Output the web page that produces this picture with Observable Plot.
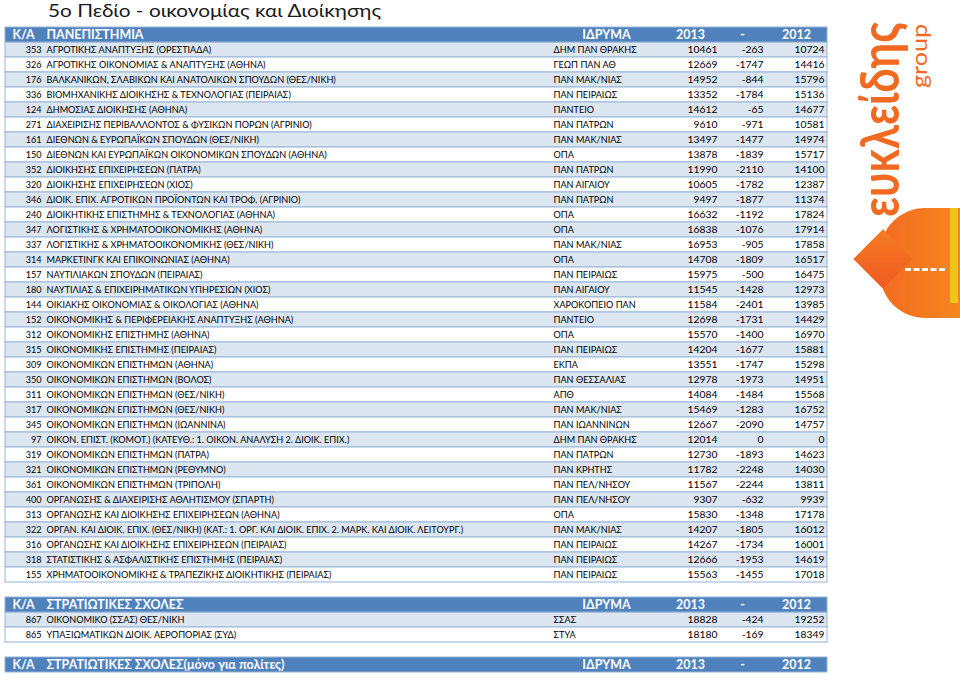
<!DOCTYPE html>
<html><head><meta charset="utf-8">
<script src="https://cdn.jsdelivr.net/npm/d3@7"></script>
<script src="https://cdn.jsdelivr.net/npm/@observablehq/plot@0.6"></script>
<style>
body{margin:0;background:#fff;width:960px;height:682px;position:relative;overflow:hidden;font-family:Lato,"Noto Sans",sans-serif}
#title{position:absolute;left:48px;top:0;white-space:nowrap;color:#1a1a1a;line-height:normal;transform-origin:0 0}
#chart{position:absolute;left:0;top:20px}
.rot{position:absolute;white-space:nowrap;transform-origin:0 0;line-height:1;color:#F26A21}
.shape{position:absolute}
</style></head><body>
<div id="title">5ο Πεδίο - οικονομίας και Διοίκησης</div>
<div id="chart"></div>
<div id="logo"></div>
<script>
// ---------- data ----------
const sectionTitles = ["ΠΑΝΕΠΙΣΤΗΜΙΑ", "ΣΤΡΑΤΙΩΤΙΚΕΣ ΣΧΟΛΕΣ", "ΣΤΡΑΤΙΩΤΙΚΕΣ ΣΧΟΛΕΣ(μόνο για πολίτες)"];
const columnLabels = ["Κ/Α", "ΙΔΡΥΜΑ", "2013", "-", "2012"];

const uniIds = [353,326,176,336,124,271,161,150,352,320,346,240,347,337,314,157,180,144,152,312,315,309,350,311,317,345,97,319,321,361,400,313,322,316,318,155];
const uniNames = [
"ΑΓΡΟΤΙΚΗΣ ΑΝΑΠΤΥΞΗΣ (ΟΡΕΣΤΙΑΔΑ)",
"ΑΓΡΟΤΙΚΗΣ ΟΙΚΟΝΟΜΙΑΣ & ΑΝΑΠΤΥΞΗΣ (ΑΘΗΝΑ)",
"ΒΑΛΚΑΝΙΚΩΝ, ΣΛΑΒΙΚΩΝ ΚΑΙ ΑΝΑΤΟΛΙΚΩΝ ΣΠΟΥΔΩΝ (ΘΕΣ/ΝΙΚΗ)",
"ΒΙΟΜΗΧΑΝΙΚΗΣ ΔΙΟΙΚΗΣΗΣ & ΤΕΧΝΟΛΟΓΙΑΣ (ΠΕΙΡΑΙΑΣ)",
"ΔΗΜΟΣΙΑΣ ΔΙΟΙΚΗΣΗΣ (ΑΘΗΝΑ)",
"ΔΙΑΧΕΙΡΙΣΗΣ ΠΕΡΙΒΑΛΛΟΝΤΟΣ & ΦΥΣΙΚΩΝ ΠΟΡΩΝ (ΑΓΡΙΝΙΟ)",
"ΔΙΕΘΝΩΝ & ΕΥΡΩΠΑΪΚΩΝ ΣΠΟΥΔΩΝ (ΘΕΣ/ΝΙΚΗ)",
"ΔΙΕΘΝΩΝ ΚΑΙ ΕΥΡΩΠΑΪΚΩΝ ΟΙΚΟΝΟΜΙΚΩΝ ΣΠΟΥΔΩΝ (ΑΘΗΝΑ)",
"ΔΙΟΙΚΗΣΗΣ ΕΠΙΧΕΙΡΗΣΕΩΝ (ΠΑΤΡΑ)",
"ΔΙΟΙΚΗΣΗΣ ΕΠΙΧΕΙΡΗΣΕΩΝ (ΧΙΟΣ)",
"ΔΙΟΙΚ. ΕΠΙΧ. ΑΓΡΟΤΙΚΩΝ ΠΡΟΪΟΝΤΩΝ ΚΑΙ ΤΡΟΦ. (ΑΓΡΙΝΙΟ)",
"ΔΙΟΙΚΗΤΙΚΗΣ ΕΠΙΣΤΗΜΗΣ & ΤΕΧΝΟΛΟΓΙΑΣ (ΑΘΗΝΑ)",
"ΛΟΓΙΣΤΙΚΗΣ & ΧΡΗΜΑΤΟΟΙΚΟΝΟΜΙΚΗΣ (ΑΘΗΝΑ)",
"ΛΟΓΙΣΤΙΚΗΣ & ΧΡΗΜΑΤΟΟΙΚΟΝΟΜΙΚΗΣ (ΘΕΣ/ΝΙΚΗ)",
"ΜΑΡΚΕΤΙΝΓΚ ΚΑΙ ΕΠΙΚΟΙΝΩΝΙΑΣ (ΑΘΗΝΑ)",
"ΝΑΥΤΙΛΙΑΚΩΝ ΣΠΟΥΔΩΝ (ΠΕΙΡΑΙΑΣ)",
"ΝΑΥΤΙΛΙΑΣ & ΕΠΙΧΕΙΡΗΜΑΤΙΚΩΝ ΥΠΗΡΕΣΙΩΝ (ΧΙΟΣ)",
"ΟΙΚΙΑΚΗΣ ΟΙΚΟΝΟΜΙΑΣ & ΟΙΚΟΛΟΓΙΑΣ (ΑΘΗΝΑ)",
"ΟΙΚΟΝΟΜΙΚΗΣ & ΠΕΡΙΦΕΡΕΙΑΚΗΣ ΑΝΑΠΤΥΞΗΣ (ΑΘΗΝΑ)",
"ΟΙΚΟΝΟΜΙΚΗΣ ΕΠΙΣΤΗΜΗΣ (ΑΘΗΝΑ)",
"ΟΙΚΟΝΟΜΙΚΗΣ ΕΠΙΣΤΗΜΗΣ (ΠΕΙΡΑΙΑΣ)",
"ΟΙΚΟΝΟΜΙΚΩΝ ΕΠΙΣΤΗΜΩΝ (ΑΘΗΝΑ)",
"ΟΙΚΟΝΟΜΙΚΩΝ ΕΠΙΣΤΗΜΩΝ (ΒΟΛΟΣ)",
"ΟΙΚΟΝΟΜΙΚΩΝ ΕΠΙΣΤΗΜΩΝ (ΘΕΣ/ΝΙΚΗ)",
"ΟΙΚΟΝΟΜΙΚΩΝ ΕΠΙΣΤΗΜΩΝ (ΘΕΣ/ΝΙΚΗ)",
"ΟΙΚΟΝΟΜΙΚΩΝ ΕΠΙΣΤΗΜΩΝ (ΙΩΑΝΝΙΝΑ)",
"ΟΙΚΟΝ. ΕΠΙΣΤ. (ΚΟΜΟΤ.) (ΚΑΤΕΥΘ.: 1. ΟΙΚΟΝ. ΑΝΑΛΥΣΗ 2. ΔΙΟΙΚ. ΕΠΙΧ.)",
"ΟΙΚΟΝΟΜΙΚΩΝ ΕΠΙΣΤΗΜΩΝ (ΠΑΤΡΑ)",
"ΟΙΚΟΝΟΜΙΚΩΝ ΕΠΙΣΤΗΜΩΝ (ΡΕΘΥΜΝΟ)",
"ΟΙΚΟΝΟΜΙΚΩΝ ΕΠΙΣΤΗΜΩΝ (ΤΡΙΠΟΛΗ)",
"ΟΡΓΑΝΩΣΗΣ & ΔΙΑΧΕΙΡΙΣΗΣ ΑΘΛΗΤΙΣΜΟΥ (ΣΠΑΡΤΗ)",
"ΟΡΓΑΝΩΣΗΣ ΚΑΙ ΔΙΟΙΚΗΣΗΣ ΕΠΙΧΕΙΡΗΣΕΩΝ (ΑΘΗΝΑ)",
"ΟΡΓΑΝ. ΚΑΙ ΔΙΟΙΚ. ΕΠΙΧ. (ΘΕΣ/ΝΙΚΗ) (ΚΑΤ.: 1. ΟΡΓ. ΚΑΙ ΔΙΟΙΚ. ΕΠΙΧ. 2. ΜΑΡΚ. ΚΑΙ ΔΙΟΙΚ. ΛΕΙΤΟΥΡΓ.)",
"ΟΡΓΑΝΩΣΗΣ ΚΑΙ ΔΙΟΙΚΗΣΗΣ ΕΠΙΧΕΙΡΗΣΕΩΝ (ΠΕΙΡΑΙΑΣ)",
"ΣΤΑΤΙΣΤΙΚΗΣ & ΑΣΦΑΛΙΣΤΙΚΗΣ ΕΠΙΣΤΗΜΗΣ (ΠΕΙΡΑΙΑΣ)",
"ΧΡΗΜΑΤΟΟΙΚΟΝΟΜΙΚΗΣ & ΤΡΑΠΕΖΙΚΗΣ ΔΙΟΙΚΗΤΙΚΗΣ (ΠΕΙΡΑΙΑΣ)"
];
const uniInsts = ["ΔΗΜ ΠΑΝ ΘΡΑΚΗΣ","ΓΕΩΠ ΠΑΝ ΑΘ","ΠΑΝ ΜΑΚ/ΝΙΑΣ","ΠΑΝ ΠΕΙΡΑΙΩΣ","ΠΑΝΤΕΙΟ","ΠΑΝ ΠΑΤΡΩΝ","ΠΑΝ ΜΑΚ/ΝΙΑΣ","ΟΠΑ","ΠΑΝ ΠΑΤΡΩΝ","ΠΑΝ ΑΙΓΑΙΟΥ","ΠΑΝ ΠΑΤΡΩΝ","ΟΠΑ","ΟΠΑ","ΠΑΝ ΜΑΚ/ΝΙΑΣ","ΟΠΑ","ΠΑΝ ΠΕΙΡΑΙΩΣ","ΠΑΝ ΑΙΓΑΙΟΥ","ΧΑΡΟΚΟΠΕΙΟ ΠΑΝ","ΠΑΝΤΕΙΟ","ΟΠΑ","ΠΑΝ ΠΕΙΡΑΙΩΣ","ΕΚΠΑ","ΠΑΝ ΘΕΣΣΑΛΙΑΣ","ΑΠΘ","ΠΑΝ ΜΑΚ/ΝΙΑΣ","ΠΑΝ ΙΩΑΝΝΙΝΩΝ","ΔΗΜ ΠΑΝ ΘΡΑΚΗΣ","ΠΑΝ ΠΑΤΡΩΝ","ΠΑΝ ΚΡΗΤΗΣ","ΠΑΝ ΠΕΛ/ΝΗΣΟΥ","ΠΑΝ ΠΕΛ/ΝΗΣΟΥ","ΟΠΑ","ΠΑΝ ΜΑΚ/ΝΙΑΣ","ΠΑΝ ΠΕΙΡΑΙΩΣ","ΠΑΝ ΠΕΙΡΑΙΩΣ","ΠΑΝ ΠΕΙΡΑΙΩΣ"];
const uni2013 = [10461,12669,14952,13352,14612,9610,13497,13878,11990,10605,9497,16632,16838,16953,14708,15975,11545,11584,12698,15570,14204,13551,12978,14084,15469,12667,12014,12730,11782,11567,9307,15830,14207,14267,12666,15563];
const uniDiff = [-263,-1747,-844,-1784,-65,-971,-1477,-1839,-2110,-1782,-1877,-1192,-1076,-905,-1809,-500,-1428,-2401,-1731,-1400,-1677,-1747,-1973,-1484,-1283,-2090,0,-1893,-2248,-2244,-632,-1348,-1805,-1734,-1953,-1455];
const uni2012 = [10724,14416,15796,15136,14677,10581,14974,15717,14100,12387,11374,17824,17914,17858,16517,16475,12973,13985,14429,16970,15881,15298,14951,15568,16752,14757,0,14623,14030,13811,9939,17178,16012,16001,14619,17018];

const milIds = [867, 865];
const milNames = ["ΟΙΚΟΝΟΜΙΚΟ (ΣΣΑΣ) ΘΕΣ/ΝΙΚΗ", "ΥΠΑΞΙΩΜΑΤΙΚΩΝ ΔΙΟΙΚ. ΑΕΡΟΠΟΡΙΑΣ (ΣΥΔ)"];
const milInsts = ["ΣΣΑΣ", "ΣΤΥΑ"];
const mil2013 = [18828, 18180];
const milDiff = [-424, -169];
const mil2012 = [19252, 18349];

// ---------- layout / style ----------
const FONT = 'Lato, "Noto Sans", sans-serif';
const HEAD = "#4F81BD", BAND = "#DCE6F1", WHITE = "#FFFFFF", BORDER = "#95B3D7", INK = "#000000";
const TABLE = {left: 5, right: 827};
const COL = {ka: 12, id: 41, name: 46, inst: 553, a: 717, d: 763, b: 824,
             hInst: 606, hA: 690, hD: 742, hB: 796};

const cv = document.createElement("canvas").getContext("2d");
function fit(text, weight, target) {
  cv.font = `${weight} 100px ${FONT}`;
  return 100 * target / cv.measureText(text).width;
}
const fName = fit(uniNames[0], "normal", 165);
const fNum = fit(String(uni2013[0]), "normal", 30);
const fHead = fit(sectionTitles[0], "bold", 97);

// title: size from cap height, stretched horizontally to the reference width
const titleText = "5ο Πεδίο - οικονομίας και Διοίκησης";
const fTitle = 17.2;
const title = document.getElementById("title");
title.style.fontSize = fTitle + "px";
title.style.top = "0px";
const sx = fit(titleText, "normal", 334) / fTitle;
title.style.transform = `scaleX(${sx})`;

// ---------- rows ----------
function mk(prefix, ids, names, insts, a, d, b) {
  return ids.map((id, i) => ({key: prefix + i, id, name: names[i], inst: insts[i], a: a[i], d: d[i], b: b[i],
                              fill: i % 2 === 0 ? BAND : WHITE}));
}
const rowsU = mk("u", uniIds, uniNames, uniInsts, uni2013, uniDiff, uni2012);
const rowsM = mk("m", milIds, milNames, milInsts, mil2013, milDiff, mil2012);
const rows = [...rowsU, ...rowsM];
const headers = sectionTitles.map((t, i) => ({key: "h" + i, title: t}));
const domain = ["h0", ...rowsU.map(d => d.key), "g0", "h1", ...rowsM.map(d => d.key), "g1", "h2"];

const headCells = headers.flatMap(h => [
  {key: h.key, label: columnLabels[0], x: COL.ka, anchor: "start"},
  {key: h.key, label: h.title, x: COL.name, anchor: "start"},
  {key: h.key, label: columnLabels[1], x: COL.hInst, anchor: "middle"},
  {key: h.key, label: columnLabels[2], x: COL.hA, anchor: "middle"},
  {key: h.key, label: columnLabels[3], x: COL.hD, anchor: "middle"},
  {key: h.key, label: columnLabels[4], x: COL.hB, anchor: "middle"}
]);

const txt = (field, xpos, anchor, size) => Plot.text(rows, {
  x: () => xpos, y: "key", text: d => String(d[field]), textAnchor: anchor,
  fontSize: size, fill: INK
});
const headTxt = anchor => Plot.text(headCells.filter(c => c.anchor === anchor), {
  x: "x", y: "key", text: "label", textAnchor: anchor, fill: WHITE, fontWeight: "bold", fontSize: fHead
});

const plot = Plot.plot({
  width: 960, height: 662,
  marginTop: 0, marginBottom: 3, marginLeft: 0, marginRight: 0,
  x: {type: "linear", domain: [0, 960], axis: null},
  y: {type: "band", domain, padding: 0, axis: null},
  color: {type: "identity"},
  style: {fontFamily: FONT, background: "transparent", overflow: "visible"},
  marks: [
    Plot.barX(rows, {x1: () => TABLE.left, x2: () => TABLE.right, y: "key", fill: "fill", stroke: BORDER, strokeWidth: 1}),
    Plot.barX(headers, {x1: () => TABLE.left, x2: () => TABLE.right, y: "key", fill: HEAD, stroke: BORDER, strokeWidth: 1}),
    txt("id", COL.id, "end", fName),
    txt("name", COL.name, "start", fName),
    txt("inst", COL.inst, "start", fName),
    txt("a", COL.a, "end", fNum),
    txt("d", COL.d, "end", fNum),
    txt("b", COL.b, "end", fNum),
    headTxt("start"),
    headTxt("middle")
  ]
});
document.getElementById("chart").appendChild(plot);

// ---------- logo (decoration) ----------
const logo = document.getElementById("logo");
function rotText(text, weight, lengthPx, baselineX, startY, xHeightPx) {
  const f = fit(text, weight, lengthPx);
  const k = xHeightPx / (0.506 * f);
  const el = document.createElement("div");
  el.className = "rot";
  el.textContent = text;
  el.style.fontSize = f + "px";
  el.style.fontWeight = weight;
  el.style.left = (baselineX - 0.887 * f * k) + "px";
  el.style.top = startY + "px";
  el.style.transform = `rotate(-90deg) scale(1, ${k})`;
  logo.appendChild(el);
}
rotText("ευκλείδης", "bold", 195, 900, 217, 27);
rotText("group", "normal", 64, 927, 88, 11);
function shape(css) { const s = document.createElement("div"); s.className = "shape"; s.style.cssText += css; logo.appendChild(s); }
shape("left:880px;top:208px;width:90px;height:110px;border-radius:45px 0 0 45px;background:linear-gradient(90deg,#F36B21,#F58A1F);");
shape("left:950px;top:208px;width:8px;height:95px;background:#F2C318;");
shape("left:862px;top:238px;width:42px;height:42px;transform:rotate(45deg);background:linear-gradient(135deg,#F47B20,#F15A22);");
shape("left:905px;top:268px;width:40px;height:0;border-top:3px dashed #fff;");
</script>
</body></html>
